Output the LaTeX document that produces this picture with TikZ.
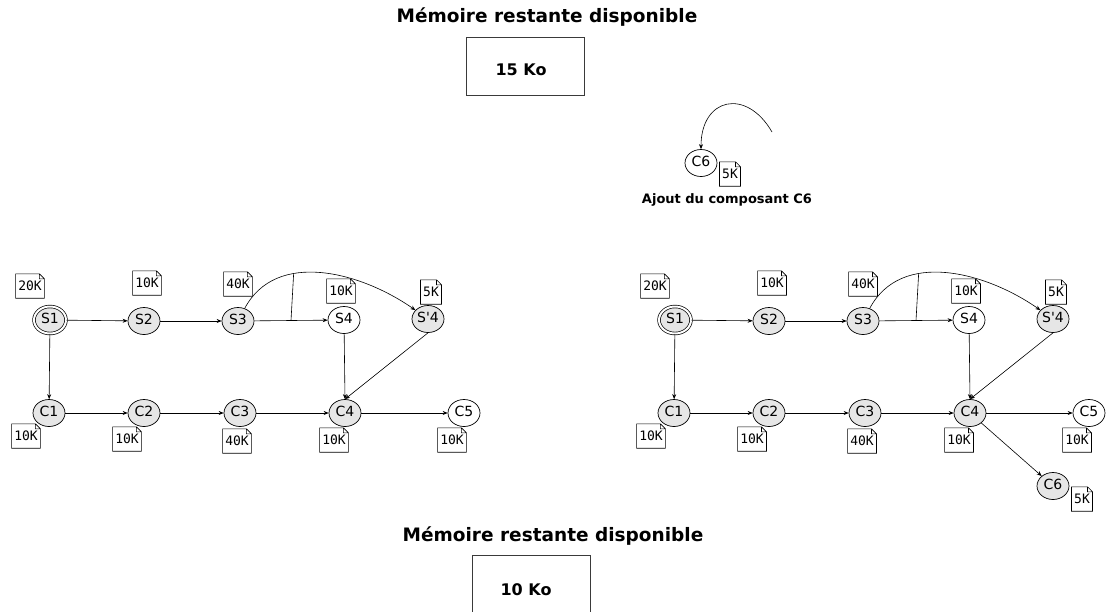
\documentclass[tikz,border=0pt]{standalone}
\usepackage{fontspec}
\setmainfont{DejaVu Sans}
\setsansfont{DejaVu Sans}
\setmonofont{DejaVu Sans Mono}
\usepackage{tikz}
\usetikzlibrary{arrows.meta,positioning,shapes.geometric}
\definecolor{ink}{HTML}{000000}
\definecolor{compbg}{HTML}{E6E6E6}
\definecolor{boxbd}{HTML}{3A3A3A}
\tikzset{
  comp/.style={ellipse,draw=ink,fill=compbg,line width=0.7pt,inner sep=0pt,
               minimum width=32pt,minimum height=27pt,text height=7pt,
               text depth=0pt,font=\fontsize{14}{14}\selectfont},
  compfree/.style={comp,fill=white},
  compinit/.style={comp,double=white,double distance=2pt},
  memtag/.style={inner xsep=2.5pt,inner ysep=0pt,minimum height=24pt,
                 font=\ttfamily\fontsize{13}{13}\selectfont,
                 append after command={\pgfextra{\let\tagnode\tikzlastnode
                   \draw[ink,line width=0.6pt]
                     (\tagnode.south west) -- (\tagnode.north west)
                     -- ([xshift=-5pt]\tagnode.north east)
                     -- ([yshift=-5pt]\tagnode.north east)
                     -- (\tagnode.south east) -- cycle
                     ([xshift=-5pt]\tagnode.north east)
                     |- ([yshift=-5pt]\tagnode.north east);}}},
  flow/.style={-{Stealth[length=5pt,width=4pt]},line width=0.6pt,ink},
  link/.style={line width=0.6pt,ink},
  headline/.style={font=\bfseries\fontsize{18.5}{18.5}\selectfont},
  membox/.style={draw=boxbd,line width=0.8pt,minimum width=118pt,
                 minimum height=58pt,inner sep=0pt},
  memtext/.style={font=\bfseries\fontsize{16}{16}\selectfont},
}
\begin{document}
\begin{tikzpicture}[x=1pt,y=1pt]
  \useasboundingbox (0,0) rectangle (1108,-611);
  % remaining memory, before
  \node[headline] (topHead) at (547,-17) {Mémoire restante disponible};
  \node[membox] (topBox) at (525.5,-66) {};
  \node[memtext] (topMem) at (521,-70) {15 Ko};
  % new component
  \node[compfree] (T-C6) at (701,-163) {C6};
  \node[memtag] (T-mC6) at (730,-174) {5K};
  \coordinate (T-src) at (772,-132);
  \draw[flow] (T-src) to[out=120,in=90,looseness=1.8] (T-C6);
  \node[font=\bfseries\fontsize{13}{13}\selectfont] (T-cap) at (727,-200)
    {Ajout du composant C6};
  % both assemblies
  \foreach \g/\dx in {L/0,R/625}{
    \begin{scope}[xshift=\dx]
      \node[compinit] (\g-S1) at (50,-320) {S1};
      \foreach \n/\x/\y/\t in {S2/144/-321/S2, S3/238/-321/S3,
          Sp4/428/-319/S\textquotesingle 4, C1/49/-413/C1, C2/144/-413/C2,
          C3/240/-413/C3, C4/345/-413/C4}
        \node[comp] (\g-\n) at (\x,\y) {\t};
      \node[compfree] (\g-S4) at (344,-320) {S4};
      \node[compfree] (\g-C5) at (464,-413) {C5};
      \foreach \n/\x/\y/\t in {S1/30/-286/20K, S2/147/-283/10K,
          S3/238/-284/40K, S4/341/-291/10K, Sp4/431/-292/5K,
          C1/26/-436/10K, C2/127/-439/10K, C3/237/-441/40K,
          C4/334/-440/10K, C5/452/-440/10K}
        \node[memtag] (\g-m\n) at (\x,\y) {\t};
      \draw[flow] (\g-S1) -- (\g-S2);
      \draw[flow] (\g-S2) -- (\g-S3);
      \draw[flow] (\g-S3) -- coordinate[pos=0.5] (\g-fork) (\g-S4);
      \draw[flow] (\g-S3) to[out=62,in=145] coordinate[pos=0.35] (\g-join) (\g-Sp4);
      \draw[link] (\g-fork) -- (\g-join);
      \draw[flow] (\g-S1) -- (\g-C1);
      \draw[flow] (\g-C1) -- (\g-C2);
      \draw[flow] (\g-C2) -- (\g-C3);
      \draw[flow] (\g-C3) -- (\g-C4);
      \draw[flow] (\g-C4) -- (\g-C5);
      \draw[flow] (\g-S4) -- (\g-C4.north);
      \draw[flow] (\g-Sp4.south) -- (\g-C4.north);
    \end{scope}
  }
  \node[comp] (R-C6) at (1053,-486) {C6};
  \node[memtag] (R-mC6) at (1082,-499) {5K};
  \draw[flow] (R-C4) -- (R-C6);
  % remaining memory, after
  \node[headline] (botHead) at (553,-536) {Mémoire restante disponible};
  \node[membox] (botBox) at (531.5,-584) {};
  \node[memtext] (botMem) at (526,-590) {10 Ko};
\end{tikzpicture}
\end{document}
